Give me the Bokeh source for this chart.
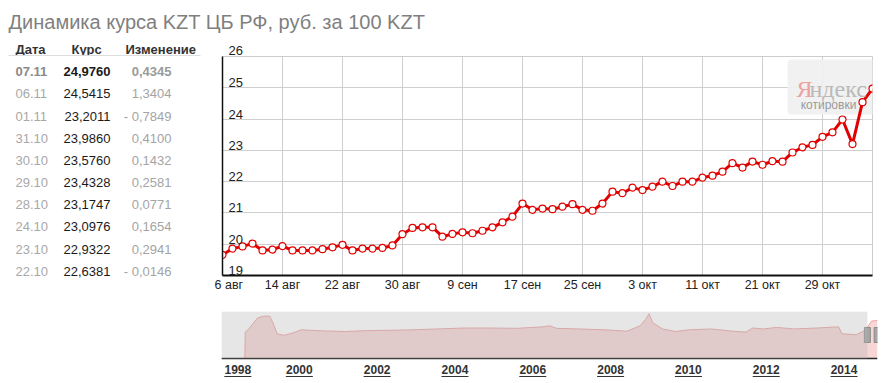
from bokeh.plotting import figure
from bokeh.models import Range1d, FixedTicker, Label, BoxAnnotation, ColumnDataSource, Span
from bokeh.layouts import column, row
from bokeh.core.properties import value
from bokeh.embed import file_html
from bokeh.resources import INLINE

FONT = "Liberation Sans"

# ---------------- data ----------------
title_text = "Динамика курса KZT ЦБ РФ, руб. за 100 KZT"

# daily rate, trading-day index 0..65 (6 авг .. 07.11)
rate = [19.66, 19.86, 19.93, 20.02, 19.80, 19.83, 19.94, 19.80, 19.80, 19.80,
        19.84, 19.90, 19.98, 19.80, 19.86, 19.86, 19.88, 19.96, 20.32, 20.52,
        20.54, 20.54, 20.24, 20.33, 20.38, 20.35, 20.43, 20.54, 20.70, 20.88,
        21.30, 21.10, 21.14, 21.12, 21.20, 21.28, 21.10, 21.07, 21.30, 21.68,
        21.63, 21.81, 21.73, 21.84, 22.00, 21.86, 22.00, 22.00, 22.13, 22.19,
        22.32, 22.59, 22.45, 22.64, 22.54, 22.6527, 22.6381, 22.9322, 23.0976, 23.1747,
        23.4328, 23.5760, 23.9860, 23.2011, 24.5415, 24.9760]

x_tick_idx = [0, 6, 12, 18, 24, 30, 36, 42, 48, 54, 60]
x_tick_labels = ["6 авг", "14 авг", "22 авг", "30 авг", "9 сен", "17 сен",
                 "25 сен", "3 окт", "11 окт", "21 окт", "29 окт"]
y_ticks = [19, 20, 21, 22, 23, 24, 25, 26]

table_head = ["Дата", "Курс", "Изменение"]
table_dates = ["07.11", "06.11", "01.11", "31.10", "30.10", "29.10", "28.10", "24.10", "23.10", "22.10"]
table_rates = ["24,9760", "24,5415", "23,2011", "23,9860", "23,5760", "23,4328", "23,1747", "23,0976", "22,9322", "22,6381"]
table_changes = ["0,4345", "1,3404", "- 0,7849", "0,4100", "0,1432", "0,2581", "0,0771", "0,1654", "0,2941", "- 0,0146"]

# navigator (long history)
nav_year = [1998.00, 1998.60, 1998.61, 1998.70, 1998.93, 1999.09, 1999.24, 1999.32, 1999.43, 1999.60,
            1999.83, 2000.05, 2000.62, 2001.18, 2001.75, 2002.31, 2002.88, 2003.56, 2004.24, 2004.92,
            2005.59, 2006.27, 2006.44, 2006.61, 2007.18, 2007.86, 2008.42, 2008.76, 2008.90, 2008.99,
            2009.08, 2009.33, 2009.67, 2010.01, 2010.57, 2011.14, 2011.48, 2011.65, 2011.93, 2012.27,
            2012.72, 2013.29, 2013.86, 2013.95, 2014.31, 2014.54, 2014.71, 2014.86]
nav_val = [0, 0, 17.4, 19.5, 26.8, 27.9, 27.9, 23.7, 16.3, 15.3,
           16.8, 18.9, 18.2, 17.8, 18.4, 18.6, 18.9, 19.5, 20.1, 20.1,
           19.9, 20.9, 21.6, 19.9, 19.5, 18.9, 18.0, 21.6, 25.8, 29.5,
           23.7, 19.5, 17.8, 18.9, 19.5, 18.0, 17.4, 20.1, 19.5, 20.5,
           19.5, 20.1, 20.9, 16.3, 15.7, 18.4, 24.7, 25.0]
nav_tick_pos = [1998.42, 2000, 2002, 2004, 2006, 2008, 2010, 2012, 2014]
nav_tick_labels = ["1998", "2000", "2002", "2004", "2006", "2008", "2010", "2012", "2014"]
sel_start, sel_end = 2014.60, 2014.85


def blank(width, height, xr, yr):
    f = figure(width=width, height=height, x_range=xr, y_range=yr, output_backend="svg",
               toolbar_location=None, x_axis_location=None, y_axis_location=None, min_border=0,
               frame_align=False)
    f.grid.visible = False
    f.outline_line_color = None
    f.background_fill_color = "white"
    f.border_fill_color = "white"
    return f


W = 884
H_TOP = 56
H_MID = 242
H_NAV = 85
W_LEFT = 214

# ---------------- header strip (title, table head, top tick) ----------------
top = blank(W, H_TOP, Range1d(0, W), Range1d(H_TOP, 0))
top.text(x=[8], y=[21.6], text=[title_text], text_font=value(FONT), text_font_size="20px",
         text_color="#7f7f7f", text_baseline="alphabetic")
top.text(x=[15, 71, 125], y=[49.2] * 3, text=table_head, text_font=value(FONT),
         text_font_size="13px", text_font_style="bold", text_color="#333333",
         text_baseline="alphabetic")
top.text(x=[228], y=[49.5], text=[str(y_ticks[-1])], text_font=value(FONT), text_font_size="13px",
         text_color="#222222", text_baseline="alphabetic")
top.segment(x0=[8], y0=[55], x1=[200], y1=[55], line_color="#dddddd", line_width=1)

# ---------------- table ----------------
tab = blank(W_LEFT, H_MID, Range1d(0, W_LEFT), Range1d(H_MID, 0))
row_y = [15.3 + 22.15 * k for k in range(len(table_dates))]
tab.text(x=[15], y=row_y[:1], text=table_dates[:1], text_font=value(FONT), text_font_size="13px",
         text_font_style="bold", text_color="#8a8a8a", text_baseline="alphabetic")
tab.text(x=[15] * 9, y=row_y[1:], text=table_dates[1:], text_font=value(FONT), text_font_size="13px",
         text_color="#a8a8a8", text_baseline="alphabetic")
tab.text(x=[110], y=row_y[:1], text=table_rates[:1], text_font=value(FONT), text_font_size="13px",
         text_font_style="bold", text_color="#1a1a1a", text_baseline="alphabetic", text_align="right")
tab.text(x=[110] * 9, y=row_y[1:], text=table_rates[1:], text_font=value(FONT), text_font_size="13px",
         text_color="#1a1a1a", text_baseline="alphabetic", text_align="right")
tab.text(x=[171], y=row_y[:1], text=table_changes[:1], text_font=value(FONT), text_font_size="13px",
         text_font_style="bold", text_color="#9a9a9a", text_baseline="alphabetic", text_align="right")
tab.text(x=[171] * 9, y=row_y[1:], text=table_changes[1:], text_font=value(FONT), text_font_size="13px",
         text_color="#a4a4a4", text_baseline="alphabetic", text_align="right")

# ---------------- main chart ----------------
p = figure(width=W - W_LEFT, height=H_MID, output_backend="svg", toolbar_location=None,
           x_range=Range1d(0, len(rate) - 1), y_range=Range1d(y_ticks[0], y_ticks[-1]),
           min_border_left=8, min_border_right=12, min_border_top=0, min_border_bottom=23,
           frame_align=False)
p.background_fill_color = "white"
p.border_fill_color = "white"
p.outline_line_color = "#cccccc"

p.yaxis.ticker = FixedTicker(ticks=[])
p.yaxis.axis_line_color = "#111111"
p.yaxis.axis_line_width = 1.5
p.yaxis.major_tick_out = 0
p.yaxis.minor_tick_out = 0
p.yaxis.major_label_standoff = 0

p.xaxis.ticker = FixedTicker(ticks=x_tick_idx)
p.xaxis.major_label_overrides = {t: lab for t, lab in zip(x_tick_idx, x_tick_labels)}
p.xaxis.axis_line_color = "#111111"
p.xaxis.axis_line_width = 2
p.xaxis.major_tick_out = 0
p.xaxis.minor_tick_out = 0
p.xaxis.major_tick_line_color = None
p.xaxis.minor_tick_line_color = None
p.xaxis.major_label_standoff = 2
p.xaxis.major_label_text_font = FONT
p.xaxis.major_label_text_font_size = "12.5px"
p.xaxis.major_label_text_color = "#222222"

p.xgrid.ticker = FixedTicker(ticks=x_tick_idx)
p.ygrid.ticker = FixedTicker(ticks=y_ticks)
p.xgrid.grid_line_color = "#cfcfcf"
p.ygrid.grid_line_color = "#cfcfcf"

for v in y_ticks[:-1]:
    p.add_layout(Label(x=14, x_units="canvas", y=v, y_units="data", y_offset=5,
                       text=str(v), text_font=FONT, text_font_size="13px",
                       text_color="#222222", text_baseline="alphabetic", text_align="left"))

# watermark
p.add_layout(BoxAnnotation(left=573, right=856, top=3, bottom=58,
                           left_units="canvas", right_units="canvas",
                           top_units="canvas", bottom_units="canvas",
                           fill_color="#efefef", fill_alpha=0.9, line_color=None,
                           border_radius=4, level="underlay"))
p.add_layout(Label(x=582, y=32, x_units="canvas", y_units="canvas", text="Я",
                   text_font="Liberation Sans Narrow", text_font_size="24px",
                   text_color="#eea0a0", text_baseline="alphabetic"))
p.add_layout(Label(x=595, y=32, x_units="canvas", y_units="canvas", text="ндекс",
                   text_font="Liberation Sans Narrow", text_font_size="24px",
                   text_color="#b9b9b9", text_baseline="alphabetic"))
p.add_layout(Label(x=614, y=48, x_units="canvas", y_units="canvas", text="котировки",
                   text_font=FONT, text_font_size="12px", text_align="center",
                   text_color="#9a9a9a", text_baseline="alphabetic"))

src = ColumnDataSource(dict(i=list(range(len(rate))), v=rate))
p.line("i", "v", source=src, line_color="#e00000", line_width=3)
p.scatter("i", "v", source=src, size=7, fill_color="white", line_color="#e00000", line_width=1.2)

# ---------------- navigator ----------------
nav = figure(width=W, height=H_NAV, output_backend="svg", toolbar_location=None,
             x_range=Range1d(nav_year[0], nav_year[-1]), y_range=Range1d(-16.49, 31),
             x_axis_location=None, y_axis_location=None,
             min_border_left=221, min_border_right=7, min_border_top=13, min_border_bottom=0,
             frame_align=False)
nav.extra_y_ranges = {"px": Range1d(H_NAV - 13, 0)}
nav.background_fill_color = "white"
nav.border_fill_color = "white"
nav.outline_line_color = None
nav.grid.visible = False
nav.varea(x=nav_year, y1=[0] * len(nav_val), y2=nav_val, fill_color="#f8d6d6", fill_alpha=1)
nav.line(nav_year, nav_val, line_color="#e9a3a3", line_width=1)
nav.add_layout(BoxAnnotation(right=sel_start, bottom=0, fill_color="#b3b3b3", fill_alpha=0.33,
                             line_color=None, level="overlay"))
nav.add_layout(Span(location=0, dimension="width", line_color="#2a2a2a", line_width=1.5))
nav.rect(x=[sel_start, sel_end], y=[15.5, 15.5], width=6, height=15,
         width_units="screen", height_units="screen",
         fill_color="#a6a6a6", line_color="#8c8c8c")
n = len(nav_tick_pos)
nav.text(x=nav_tick_pos, y=[58] * n, text=nav_tick_labels, y_range_name="px",
         text_font=value(FONT), text_font_size="12px", text_font_style="bold",
         text_color="#333333", text_align="center", text_baseline="middle")
nav.rect(x=nav_tick_pos, y=[65] * n, width=27, height=1, width_units="screen", height_units="screen",
         y_range_name="px", fill_color="#333333", line_color=None)

layout = column(top, row(tab, p, spacing=0), nav, spacing=0)
open("out.html", "w").write(file_html(layout, INLINE))
